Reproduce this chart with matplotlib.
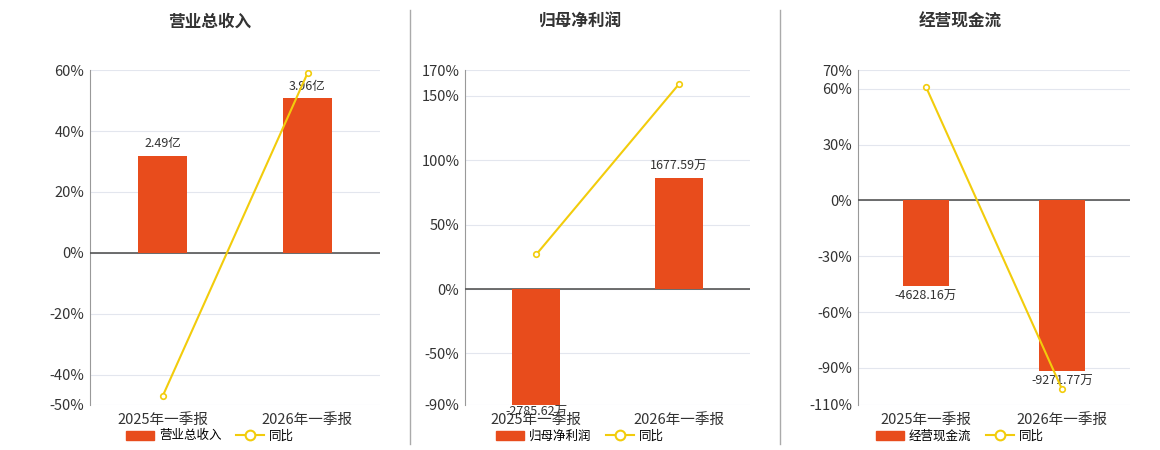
import matplotlib
matplotlib.use("Agg")
import matplotlib.pyplot as plt
from matplotlib.lines import Line2D
from matplotlib.patches import Patch

plt.rcParams['font.family'] = ['Noto Sans CJK SC', 'DejaVu Sans']

categories = ["2025年一季报", "2026年一季报"]
titles = ["营业总收入", "归母净利润", "经营现金流"]
bar_values = [[2.49, 3.96], [-2785.62, 1677.59], [-4628.16, -9271.77]]
bar_labels = [["2.49亿", "3.96亿"], ["-2785.62万", "1677.59万"], ["-4628.16万", "-9271.77万"]]
yoy = [[-47.2, 59.0], [26.9, 159.0], [61.0, -101.5]]
yticks = [[60, 40, 20, 0, -20, -40, -50], [170, 150, 100, 50, 0, -50, -90], [70, 60, 30, 0, -30, -60, -90, -110]]
# percent position used to scale bars (value -> percent)
bar_ref = [(3.96, 50.8), (1677.59, 86.0), (-4628.16, -45.8)]

BAR = "#E84C1C"
LINE = "#F2CC0C"

fig = plt.figure(figsize=(11.6, 4.5), dpi=100)
lefts = [90, 465, 858]
rights = [380, 750, 1130]
centers = [210, 580, 960]
for i in range(3):
    ax = fig.add_axes([lefts[i]/1160, 0.1, (rights[i]-lefts[i])/1160, 0.744])
    lo, hi = yticks[i][-1], yticks[i][0]
    ax.set_ylim(lo, hi)
    ax.set_xlim(-0.5, 1.5)
    ax.set_yticks(yticks[i])
    ax.set_yticklabels([f"{t}%" for t in yticks[i]], fontsize=10.5, color="#333")
    ax.grid(axis='y', color="#e3e6ee", lw=0.8)
    ax.set_axisbelow(True)
    for s in ["top", "right", "bottom"]:
        ax.spines[s].set_visible(False)
    ax.spines["left"].set_color("#999")
    ax.tick_params(axis='y', length=0, pad=4)
    ax.set_xticks([0, 1])
    ax.set_xticklabels(categories, fontsize=10.5, color="#333")
    ax.tick_params(axis='x', length=0, pad=6)
    ax.axhline(0, color="#555", lw=1.2, zorder=3)
    v, p = bar_ref[i]
    k = v / p
    ax2 = ax.twinx()
    ax2.set_ylim(lo*k, hi*k)
    ax2.axis("off")
    ax2.bar([0, 1], bar_values[i], width=0.34, color=BAR, zorder=2)
    for x, bv, lab in zip([0, 1], bar_values[i], bar_labels[i]):
        if bv >= 0:
            ax2.annotate(lab, (x, bv), xytext=(0, 4), textcoords="offset points", ha="center", va="bottom", fontsize=9, color="#333")
        else:
            bb = max(bv, lo*k*0.97)
            ax2.annotate(lab, (x, bb), xytext=(0, -3), textcoords="offset points", ha="center", va="top", fontsize=9, color="#333")
    ax3 = ax.twinx()
    ax3.set_ylim(lo, hi)
    ax3.axis("off")
    ax3.plot([0, 1], yoy[i], color=LINE, lw=1.5, marker="o", ms=4, mfc="white", mec=LINE, mew=1.2, zorder=5)
    fig.text(centers[i]/1160, 1-22/450, titles[i], ha="center", va="center", fontsize=12, fontweight="bold", color="#333")
    handles = [Patch(color=BAR), Line2D([0], [0], color=LINE, lw=1.5, marker="o", ms=7, mfc="white", mec=LINE, mew=1.5)]
    fig.legend(handles, [titles[i], "同比"], loc="center", bbox_to_anchor=(centers[i]/1160, 1-436/450),
               ncol=2, frameon=False, fontsize=9, handlelength=2.2, handletextpad=0.4, columnspacing=1.2)

for x in [410, 780]:
    fig.add_artist(Line2D([x/1160, x/1160], [1-10/450, 1-444/450], color="#aaa", lw=1))

fig.savefig("out.png", dpi=100)
